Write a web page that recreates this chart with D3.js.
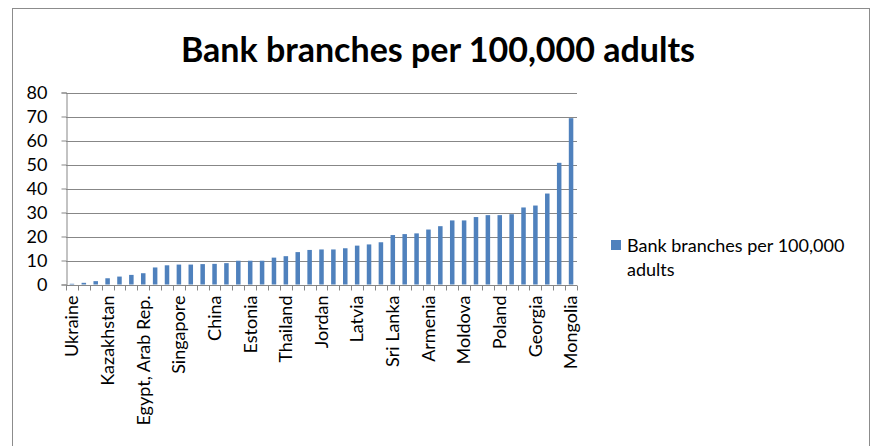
<!DOCTYPE html>
<html>
<head>
<meta charset="utf-8">
<script src="https://cdn.jsdelivr.net/npm/d3@7"></script>
<style>
  html, body { margin: 0; padding: 0; background: #fff; }
  svg { display: block; }
  text { font-family: Lato, "Liberation Sans", sans-serif; fill: #000; }
</style>
</head>
<body>
<svg id="chart" width="874" height="446"></svg>
<script>
// Countries, sorted by bank branches per 100,000 adults
const countries = [
  "Ukraine", "Tajikistan", "Kyrgyz Republic", "Kazakhstan", "Uzbekistan", "Pakistan",
  "Egypt, Arab Rep.", "Indonesia", "Philippines", "Singapore", "Vietnam", "Bangladesh",
  "China", "India", "Malaysia", "Estonia", "Lithuania", "Belarus",
  "Thailand", "Turkey", "Albania", "Jordan", "Morocco", "Tunisia",
  "Latvia", "Romania", "Serbia", "Sri Lanka", "Hungary", "Czech Republic",
  "Armenia", "Macedonia, FYR", "Slovak Republic", "Moldova", "Croatia", "Bosnia and Herzegovina",
  "Poland", "Bulgaria", "Slovenia", "Georgia", "Montenegro", "Russian Federation",
  "Mongolia"
];
const branches = [
  0.3, 0.7, 1.4, 2.6, 3.3, 4.0,
  4.7, 7.1, 8.0, 8.3, 8.3, 8.5,
  8.6, 8.9, 9.9, 9.9, 9.9, 11.2,
  11.8, 13.5, 14.4, 14.6, 14.6, 15.1,
  16.2, 16.7, 17.6, 20.6, 21.0, 21.3,
  22.9, 24.3, 26.7, 26.7, 28.1, 28.9,
  28.9, 29.3, 32.1, 32.9, 37.9, 50.7,
  69.3
];
const yTicks = [0, 10, 20, 30, 40, 50, 60, 70, 80];
const seriesName = "Bank branches per 100,000 adults";
const titleText = "Bank branches per 100,000 adults";

const barColor = "#4F81BD";
const gridColor = "#878787";
const labelSize = "18px";

const svg = d3.select("#chart");

// Chart frame
svg.append("rect")
  .attr("x", 12.5).attr("y", 8.5)
  .attr("width", 857).attr("height", 460)
  .attr("fill", "#fff")
  .attr("stroke", "#8c8c8c")
  .attr("stroke-width", 1);

const plot = { left: 66, right: 577, top: 92.5, bottom: 284.5 };

const x = d3.scaleBand()
  .domain(countries)
  .range([plot.left, plot.right])
  .paddingInner(0.62)
  .paddingOuter(0.31);

const y = d3.scaleLinear()
  .domain([0, 80])
  .range([plot.bottom, plot.top]);

// Horizontal gridlines
svg.append("g")
  .selectAll("line")
  .data(yTicks.filter(d => d > 0))
  .join("line")
  .attr("x1", plot.left).attr("x2", plot.right)
  .attr("y1", d => Math.round(y(d)) + 0.5)
  .attr("y2", d => Math.round(y(d)) + 0.5)
  .attr("stroke", gridColor)
  .attr("stroke-width", 1);

// Bars
svg.append("g")
  .selectAll("rect")
  .data(countries.map((c, i) => ({ c, v: branches[i] })))
  .join("rect")
  .attr("x", d => x(d.c))
  .attr("width", x.bandwidth())
  .attr("y", d => y(d.v))
  .attr("height", d => y(0) - y(d.v))
  .attr("fill", barColor);

// Y axis
const yAxis = d3.axisLeft(y)
  .tickValues(yTicks)
  .tickSize(5)
  .tickPadding(14)
  .tickFormat(d3.format("d"));
const gy = svg.append("g")
  .attr("transform", `translate(${plot.left + 0.5},0)`)
  .call(yAxis);
gy.select(".domain").attr("stroke", gridColor);
gy.selectAll(".tick line").attr("stroke", gridColor);
gy.selectAll(".tick text")
  .style("font-family", "Lato, 'Liberation Sans', sans-serif")
  .style("font-size", labelSize)
  .attr("fill", "#000");

// X axis: ticks between categories, every third label shown
const step = x.step();
const boundaries = d3.range(countries.length + 1).map(i => plot.left + i * step);
const gx = svg.append("g");
gx.append("line")
  .attr("x1", plot.left).attr("x2", plot.right)
  .attr("y1", Math.round(y(0)) + 0.5).attr("y2", Math.round(y(0)) + 0.5)
  .attr("stroke", gridColor);
gx.selectAll("line.tick")
  .data(boundaries)
  .join("line")
  .attr("class", "tick")
  .attr("x1", d => Math.round(d) + 0.5).attr("x2", d => Math.round(d) + 0.5)
  .attr("y1", Math.round(y(0)) + 0.5).attr("y2", Math.round(y(0)) + 5.5)
  .attr("stroke", gridColor);

gx.selectAll("text")
  .data(countries.filter((c, i) => i % 3 === 0))
  .join("text")
  .attr("transform", d => `translate(${x(d) + x.bandwidth() / 2},${y(0) + 11}) rotate(-90)`)
  .attr("text-anchor", "end")
  .attr("dy", "0.35em")
  .style("font-size", labelSize)
  .text(d => d);

// Title
svg.append("text")
  .attr("x", 438).attr("y", 62)
  .attr("text-anchor", "middle")
  .style("font-size", "34px")
  .style("font-weight", "bold")
  .text(titleText);

// Legend
const legend = svg.append("g").attr("transform", "translate(611,240)");
legend.append("rect")
  .attr("width", 10).attr("height", 10)
  .attr("fill", barColor);
legend.append("text")
  .attr("x", 16).attr("y", 12)
  .style("font-size", labelSize)
  .text("Bank branches per 100,000");
legend.append("text")
  .attr("x", 16).attr("y", 36)
  .style("font-size", labelSize)
  .text("adults");
</script>
</body>
</html>
